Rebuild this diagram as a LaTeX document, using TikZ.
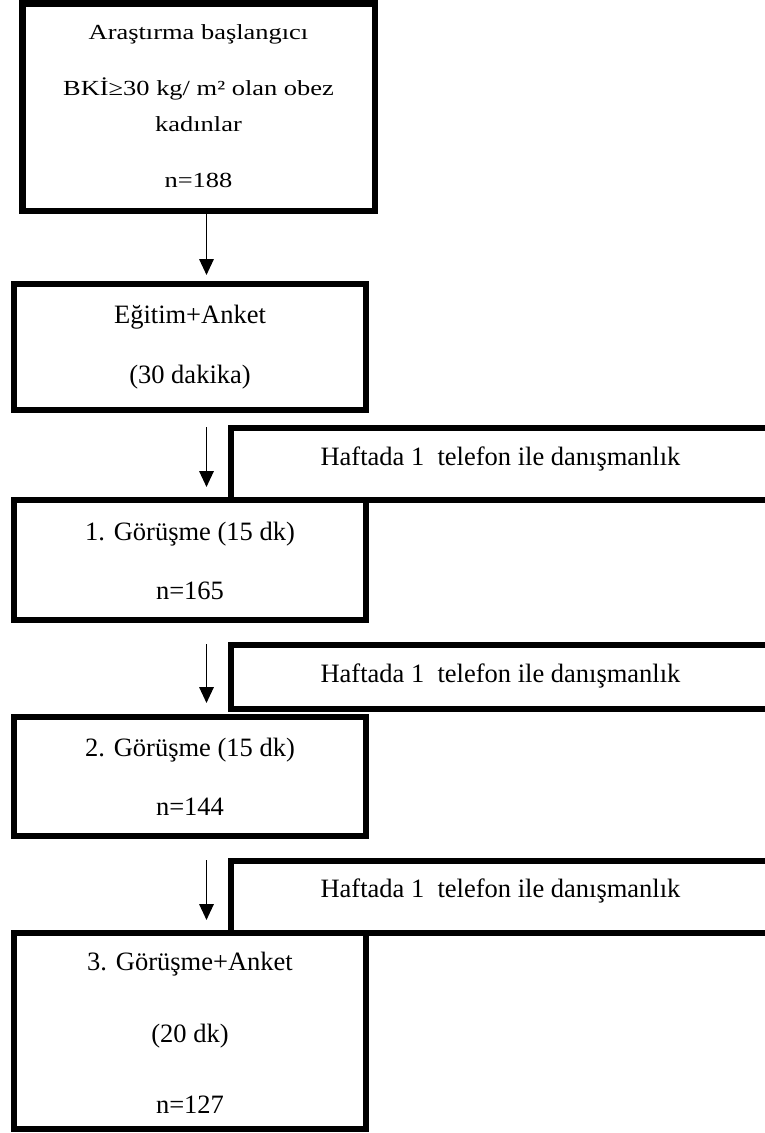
\documentclass[tikz,border=0pt]{standalone}
\usepackage{fontspec}
\setmainfont{Liberation Serif}
\newfontfamily\widefont[FakeStretch=1.23]{Liberation Serif}
\usetikzlibrary{arrows.meta}
\tikzset{
  box/.style={draw=black, fill=white, rectangle, line width=6pt, inner sep=0pt},
  topbox/.style={box, line width=6.5pt},
  lbl/.style={anchor=base, inner sep=0pt, font=\fontsize{26.5}{30}\selectfont},
  toplbl/.style={anchor=base, inner sep=0pt, font=\widefont\fontsize{21.5}{26}\selectfont},
  arr/.style={draw=black, line width=1.7pt, -{Triangle[width=14.5pt,length=16pt]}}
}
\begin{document}
\begin{tikzpicture}[x=1pt,y=-1pt]
\useasboundingbox (0,0) rectangle (765,1133);
\fill[white] (0,0) rectangle (765,1133);
\clip (0,0) rectangle (765,1133);
\coordinate (ax) at (206.5,0);

% side boxes (drawn first so main boxes overlay shared edges)
\node[box, minimum width=569pt, minimum height=72pt] (h1) at (515.5,464) {};
\node[box, minimum width=569pt, minimum height=64pt] (h2) at (515.5,677) {};
\node[box, minimum width=569pt, minimum height=72pt] (h3) at (515.5,897) {};

% main boxes
\node[topbox, minimum width=352.5pt, minimum height=207.5pt] (b1) at (198.5,107) {};
\node[box, minimum width=352pt, minimum height=126pt] (b2) at (190,347) {};
\node[box, minimum width=352pt, minimum height=120pt] (b3) at (190,560) {};
\node[box, minimum width=352pt, minimum height=119pt] (b4) at (190,776.5) {};
\node[box, minimum width=352pt, minimum height=196pt] (b5) at (190,1031) {};

% texts
\node[toplbl] (t1a) at (198.5,39) {Araştırma başlangıcı};
\node[toplbl] (t1b) at (198.5,95) {BKİ≥30 kg/ m² olan obez};
\node[toplbl] (t1c) at (198.5,131) {kadınlar};
\node[toplbl] (t1d) at (198.5,187) {n=188};

\node[lbl] (t2a) at (190,323) {Eğitim+Anket};
\node[lbl] (t2b) at (190,383) {(30 dakika)};

\node[lbl] (th1) at (500.5,465) {Haftada 1 \ telefon ile danışmanlık};

\node[lbl] (t3a) at (190,540) {1. Görüşme (15 dk)};
\node[lbl] (t3b) at (190,599) {n=165};

\node[lbl] (th2) at (500.5,682) {Haftada 1 \ telefon ile danışmanlık};

\node[lbl] (t4a) at (190,756) {2. Görüşme (15 dk)};
\node[lbl] (t4b) at (190,815) {n=144};

\node[lbl] (th3) at (500.5,897) {Haftada 1 \ telefon ile danışmanlık};

\node[lbl] (t5a) at (190,970) {3. Görüşme+Anket};
\node[lbl] (t5b) at (190,1042) {(20 dk)};
\node[lbl] (t5c) at (190,1113) {n=127};

% arrows
\draw[arr, shorten >=6pt] (b1.south -| ax) -- (b2.north -| ax);
\draw[arr, shorten <=14pt, shorten >=10pt] (b2.south -| ax) -- (b3.north -| ax);
\draw[arr, shorten <=21pt, shorten >=11pt] (b3.south -| ax) -- (b4.north -| ax);
\draw[arr, shorten <=21pt, shorten >=10pt] (b4.south -| ax) -- (b5.north -| ax);
\end{tikzpicture}
\end{document}
